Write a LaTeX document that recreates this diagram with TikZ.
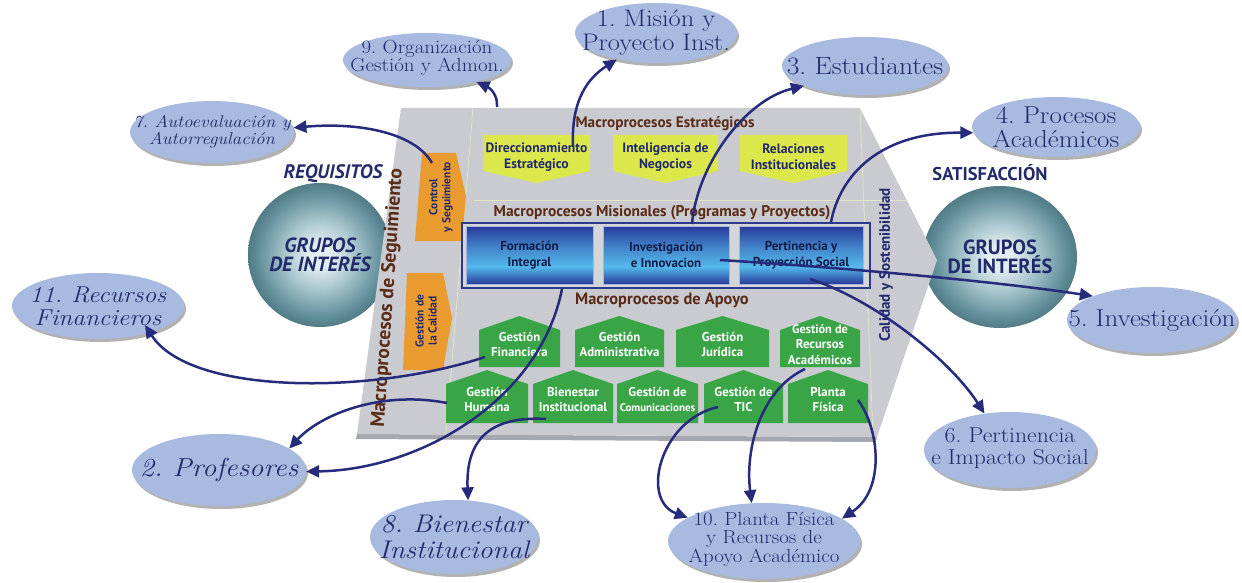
\documentclass[tikz,border=0pt]{standalone}
\usepackage{fontspec}
\newfontfamily\pts{PT Sans}
\newfontfamily\ef{Latin Modern Roman}[FakeStretch=1.1]
\usetikzlibrary{shapes.geometric,arrows.meta,shadows,calc}
\definecolor{navy}{HTML}{262B7C}
\definecolor{ntxt}{HTML}{232A6C}
\definecolor{mbtxt}{HTML}{141C4A}
\definecolor{brownt}{HTML}{5A2B17}
\definecolor{ylw}{HTML}{DCE74C}
\definecolor{grn}{HTML}{3AA547}
\definecolor{org}{HTML}{E99B30}
\definecolor{ellc}{HTML}{A8BAE0}
\definecolor{boardc}{HTML}{C9CBD0}
\definecolor{boardd}{HTML}{A4A7AD}
\definecolor{sphl}{HTML}{E3EEF1}
\definecolor{sphm}{HTML}{A9C6CE}
\definecolor{sphd}{HTML}{5E8C97}
\definecolor{mbdark}{HTML}{27399A}
\definecolor{mblight}{HTML}{55B9EC}
\definecolor{mbout}{HTML}{2B3A8E}
\definecolor{mbedge}{HTML}{A8B4D8}
\definecolor{linec}{HTML}{E2E6C4}
\pgfdeclareradialshading{sphere}{\pgfpoint{0bp}{0bp}}{color(0bp)=(sphl); color(4bp)=(sphl); color(12bp)=(sphm); color(22bp)=(sphd); color(25bp)=(sphd!88!black); color(50bp)=(sphd!88!black)}
\pgfdeclareverticalshading{mbshade}{100bp}{color(0bp)=(mbdark); color(25bp)=(mbdark); color(40bp)=(mblight); color(58bp)=(mblight!55!mbdark); color(75bp)=(mbdark); color(100bp)=(mbdark)}
\newcommand\ybox[4]{%
  \fill[ylw] (#2,135) -- (#3,135) -- (#3,171) -- ({(#2+#3)/2},183) -- (#2,171) -- cycle;
  \node[ytext] (#1) at ({(#2+#3)/2},157) {#4};}
\newcommand\gbox[6]{%
  \fill[grn] (#2,#4+14) -- ({(#2+#3)/2},#4) -- (#3,#4+14) -- (#3,#5) -- (#2,#5) -- cycle;
  \node[gtext] (#1) at ({(#2+#3)/2},{(#4+#5)/2+3}) {#6};}
\begin{document}
\frenchspacing
\begin{tikzpicture}[x=1pt,y=-1pt,
 arr/.style={draw=navy, line width=2.5pt, -{Triangle[length=13pt,width=12pt]}},
 ell/.style={ellipse, fill=ellc, inner sep=0pt,
   drop shadow={shadow xshift=2pt, shadow yshift=-3pt, fill=black, opacity=0.3}},
 etext/.style={align=center, text=ntxt, inner sep=0pt},
 hdr/.style={text=brownt, inner sep=0pt, font=\pts\bfseries\fontsize{15.5}{17}\selectfont},
 ytext/.style={text=ntxt, align=center, inner sep=0pt, font=\pts\bfseries\fontsize{13.6}{15.5}\selectfont},
 gtext/.style={text=white, align=center, inner sep=0pt, font=\pts\bfseries\fontsize{12.8}{15.5}\selectfont},
 mbox/.style={rectangle, shading=mbshade, draw=mbedge, line width=0.8pt, align=center, text=mbtxt,
   inner sep=0pt, font=\pts\bfseries\fontsize{13}{15.5}\selectfont},
 otext/.style={text=ntxt, align=center, inner sep=0pt, rotate=90, font=\pts\bfseries\fontsize{11.5}{13}\selectfont},
 sph/.style={shading=sphere, inner sep=0pt, align=center, text=ntxt, font=\pts\bfseries\fontsize{20.5}{19}\selectfont},
 lbl/.style={text=ntxt, inner sep=0pt, font=\pts\bfseries\itshape\fontsize{19.5}{20}\selectfont},
]
\useasboundingbox (0,0) rectangle (1242,583);

% spheres
\node[sph, circle, minimum size=144pt, font=\pts\bfseries\itshape\fontsize{20.5}{19}\selectfont] (gL) at (320,255) {GRUPOS\\DE INTERÉS};
\node[sph, ellipse, minimum width=154pt, minimum height=142pt] (gR) at (1000,257) {GRUPOS\\DE INTERÉS};
\node[lbl] (req) at (333,174) {REQUISITOS};
\node[lbl, font=\pts\bfseries\fontsize{18.5}{20}\selectfont] (sat) at (990,173) {SATISFACCIÓN};

% board
\fill[boardd] (357,434) -- (877,437) -- (876,442) -- (356,439) -- cycle;
\fill[boardc] (401,108) -- (860,108) -- (937,260) -- (877,437) -- (357,434) -- cycle;
\draw[linec, line width=0.8pt] (473,108) -- (446,434);
\draw[linec, line width=0.8pt] (860,108) -- (873,436);
\draw[linec, line width=0.8pt] (474,200) -- (908,200);

% seguimiento column
\node[text=brownt, inner sep=0pt, rotate=86, font=\pts\bfseries\fontsize{19.5}{21}\selectfont] (hSeg) at (388,298) {Macroprocesos de Seguimiento};
\fill[org] (422,153) -- (456,153) -- (466,196) -- (462,241) -- (415,241) -- cycle;
\node[otext] (oC) at (441,197) {Control\\y Seguimiento};
\fill[org] (407,273) -- (443,273) -- (452,318) -- (443,370) -- (403,370) -- cycle;
\node[otext] (oQ) at (426,321) {Gestión de\\la Calidad};
\node[text=ntxt, inner sep=0pt, rotate=90, font=\pts\bfseries\fontsize{15}{17}\selectfont] (hCal) at (886,265) {Calidad y Sostenibilidad};

% estrategicos
\node[hdr, font=\pts\bfseries\fontsize{15.2}{17}\selectfont] (hE) at (665,124) {Macroprocesos Estratégicos};
\ybox{yD}{483}{590}{Direccionamiento\\Estratégico}
\ybox{yI}{613}{718}{Inteligencia de\\Negocios}
\ybox{yR}{740}{847}{Relaciones\\Institucionales}

% misionales
\node[hdr] (hM) at (662,213) {Macroprocesos Misionales (Programas y Proyectos)};
\draw[mbout, line width=2.2pt, fill=boardc!80!white] (462,223) rectangle (870,288);
\node[mbox, minimum width=127pt, minimum height=58pt] (mF) at (529.5,255) {Formación\\Integral};
\node[mbox, minimum width=126pt, minimum height=58pt] (mI) at (666,255) {Investigación\\e Innovacion};
\node[mbox, minimum width=124pt, minimum height=58pt] (mP) at (801,255) {Pertinencia y\\Proyección Social};

% apoyo
\node[hdr, font=\pts\bfseries\fontsize{16.4}{18}\selectfont] (hA) at (662,300) {Macroprocesos de Apoyo};
\gbox{gFin}{479}{560}{316}{367}{Gestión\\Financiera}
\gbox{gAdm}{575}{664}{316}{367}{Gestión\\Administrativa}
\gbox{gJur}{676}{769}{316}{367}{Gestión\\Jurídica}
\gbox{gRec}{780}{860}{316}{367}{\fontsize{12.3}{14}\selectfont Gestión de\\Recursos\\Académicos}
\gbox{gHum}{446}{528}{370}{423}{Gestión\\Humana}
\gbox{gBie}{533}{613}{370}{423}{Bienestar\\Institucional}
\gbox{gCom}{617}{698}{370}{423}{Gestión de\\{\fontsize{11}{15.5}\selectfont Comunicaciones}}
\gbox{gTic}{704}{783}{370}{423}{Gestión de\\TIC}
\gbox{gPla}{788}{868}{370}{423}{Planta\\Física}

% ellipses
\node[ell, minimum width=162pt, minimum height=60pt] (e1) at (656,33) {};
\node[etext, font=\ef\fontsize{24}{24}\selectfont] (t1) at (e1) {1. Misión y\\Proyecto Inst.};
\node[ell, minimum width=168pt, minimum height=54pt] (e9) at (427,60) {};
\node[etext, font=\ef\fontsize{19}{18}\selectfont] (t9) at ($(e9)+(0,-2)$) {9. Organización\\Gestión y Admon.};
\node[ell, minimum width=166pt, minimum height=58pt] (e3) at (865,66) {};
\node[etext, font=\ef\fontsize{25}{24}\selectfont] (t3) at (e3) {3. Estudiantes};
\node[ell, minimum width=168pt, minimum height=60pt] (e4) at (1056,127) {};
\node[etext, font=\ef\fontsize{24.5}{24.5}\selectfont] (t4) at (e4) {4. Procesos\\Académicos};
\node[ell, minimum width=170pt, minimum height=66pt] (e5) at (1152,320) {};
\node[etext, font=\ef\fontsize{24.5}{24}\selectfont] (t5) at (e5) {5. Investigación};
\node[ell, minimum width=172pt, minimum height=76pt] (e6) at (1010,450) {};
\node[etext, font=\ef\fontsize{21.5}{22}\selectfont] (t6) at ($(e6)+(0,-2)$) {6. Pertinencia\\e Impacto Social};
\node[ell, minimum width=192pt, minimum height=76pt] (e10) at (764,541) {};
\node[etext, font=\ef\fontsize{19}{18.5}\selectfont] (t10) at ($(e10)+(0,-2)$) {10. Planta Física\\y Recursos de\\Apoyo Académico};
\node[ell, minimum width=168pt, minimum height=74pt] (e8) at (454,537) {};
\node[etext, font=\ef\itshape\fontsize{25.5}{25.5}\selectfont] (t8) at (e8) {8. Bienestar\\Institucional};
\node[ell, minimum width=174pt, minimum height=72pt] (e2) at (219,470) {};
\node[etext, font=\ef\itshape\fontsize{26}{24}\selectfont] (t2) at (e2) {2. Profesores};
\node[ell, minimum width=172pt, minimum height=66pt] (e11) at (98,306) {};
\node[etext, font=\ef\itshape\fontsize{23}{23}\selectfont] (t11) at (e11) {11. Recursos\\Financieros};
\node[ell, minimum width=164pt, minimum height=62pt] (e7) at (212,132) {};
\node[etext, font=\ef\itshape\fontsize{17}{17}\selectfont] (t7) at (e7) {7. Autoevaluación y\\Autorregulación};

% arrow starts
\coordinate (s7) at (432,163);
\coordinate (s9) at (497,107);
\coordinate (s1) at (573,146);
\coordinate (s3) at (692,224);
\coordinate (s4) at (831,222);
\coordinate (s5) at (720,260);
\coordinate (s6) at (810,279);
\coordinate (s11) at (485,357);
\coordinate (s2a) at (562,289);
\coordinate (s2b) at (447,403);
\coordinate (s8) at (546,419);
\coordinate (s10a) at (718,407);
\coordinate (s10b) at (805,369);
\coordinate (s10c) at (858,400);

% arrows
\draw[arr] (s7) .. controls (415,133) and (360,122) .. (e7.3);
\draw[arr] (s9) .. controls (498,95) and (490,88) .. (e9.-24);
\draw[arr] (s1) .. controls (571,100) and (588,78) .. (e1.-146);
\draw[arr] (s3) .. controls (697,165) and (745,100) .. (e3.-162);
\draw[arr] (s4) .. controls (840,175) and (880,132) .. (e4.-176);
\draw[arr] (s5) .. controls (850,268) and (1000,282) .. (e5.158);
\draw[arr] (s6) .. controls (875,300) and (950,360) .. (e6.125);
\draw[arr] (s11) .. controls (370,395) and (190,395) .. ($(e11.center)+(47,19)$);
\draw[arr] (s2a) .. controls (540,400) and (420,470) .. (e2.-1);
\draw[arr] (s2b) .. controls (380,390) and (320,415) .. (e2.17);
\draw[arr] (s8) .. controls (480,415) and (466,450) .. (e8.69);
\draw[arr] (s10a) .. controls (660,420) and (640,500) .. (e10.163);
\draw[arr] (s10b) .. controls (760,390) and (745,450) .. (e10.108);
\draw[arr] (s10c) .. controls (880,430) and (885,490) .. (e10.16);
\end{tikzpicture}
\end{document}
